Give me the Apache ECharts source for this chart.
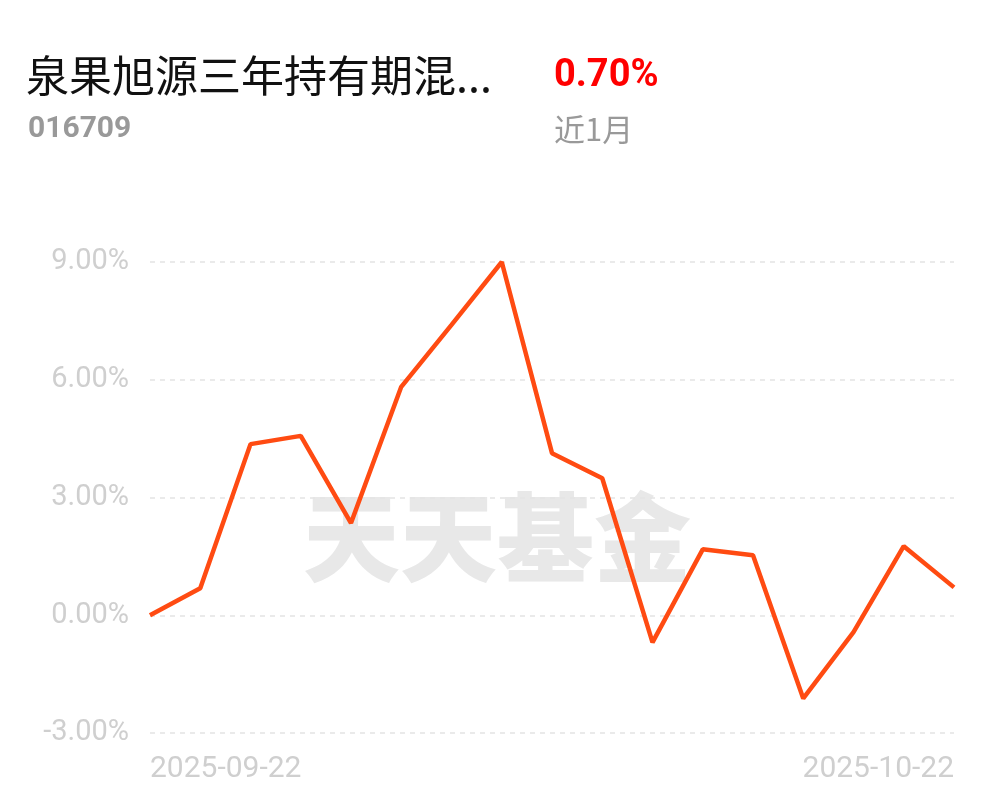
<!DOCTYPE html>
<html>
<head>
<meta charset="utf-8">
<script src="https://cdn.jsdelivr.net/npm/echarts@6/dist/echarts.min.js"></script>
<style>
  html, body { margin: 0; padding: 0; background: #fff; }
  #chart { width: 997px; height: 802px; }
</style>
</head>
<body>
<div id="chart"></div>
<script>
// 近1月 收益走势
const dates = ['2025-09-22', '2025-09-23', '2025-09-24', '2025-09-25', '2025-09-26', '2025-09-29',
  '2025-09-30', '2025-10-09', '2025-10-10', '2025-10-13', '2025-10-14', '2025-10-15',
  '2025-10-16', '2025-10-17', '2025-10-20', '2025-10-21', '2025-10-22'];
const returns = [0.00, 0.69, 4.36, 4.57, 2.35, 5.82, 7.40, 9.00, 4.13, 3.49, -0.69,
  1.68, 1.53, -2.12, -0.43, 1.76, 0.71];
const yTicks = [-3, 0, 3, 6, 9];

const chart = echarts.init(document.getElementById('chart'));
const lastIdx = dates.length - 1;

const option = {
  backgroundColor: '#fff',
  animation: false,
  graphic: [
    { type: 'text', left: 26, top: 54, z: 10,
      style: { text: '泉果旭源三年持有期混...', fill: '#111', font: '43px "Noto Sans CJK SC"' } },
    { type: 'text', left: 28, top: 114, z: 10,
      style: { text: '016709', fill: '#999', font: 'bold 30px Roboto' } },
    { type: 'text', left: 554, top: 57, z: 10,
      style: { text: '0.70%', fill: '#f00', font: 'bold 38px Roboto' } },
    { type: 'text', left: 554, top: 114, z: 10,
      style: { text: '近1月', fill: '#999', font: '31px "Noto Sans CJK SC"' } },
    // watermark
    { type: 'text', left: 303, top: 489, z: -10,
      style: { text: '天天基金', fill: '#e8e8e8', font: '900 97px "Noto Sans CJK SC"' } }
  ],
  grid: { left: 150, right: 43, top: 262, bottom: 69 },
  xAxis: {
    type: 'category',
    data: dates,
    boundaryGap: false,
    axisLine: { show: false },
    axisTick: { show: false },
    axisLabel: {
      interval: (i) => i === 0 || i === lastIdx,
      color: '#cfcfcf',
      fontSize: 30,
      fontFamily: 'Roboto',
      margin: 21,
      alignMinLabel: 'left',
      alignMaxLabel: 'right',
      showMinLabel: true,
      showMaxLabel: true
    }
  },
  yAxis: {
    type: 'value',
    min: yTicks[0],
    max: yTicks[yTicks.length - 1],
    interval: 3,
    axisLine: { show: false },
    axisTick: { show: false },
    axisLabel: {
      formatter: (v) => v.toFixed(2) + '%',
      color: '#cfcfcf',
      fontSize: 29,
      fontFamily: 'Roboto',
      margin: 21
    },
    splitLine: { lineStyle: { type: [5, 5], color: '#e3e3e3', width: 1.5 } }
  },
  series: [{
    type: 'line',
    data: returns,
    symbol: 'none',
    z: 5,
    lineStyle: { color: '#ff4b12', width: 4.5 }
  }]
};

chart.setOption(option);
</script>
</body>
</html>
